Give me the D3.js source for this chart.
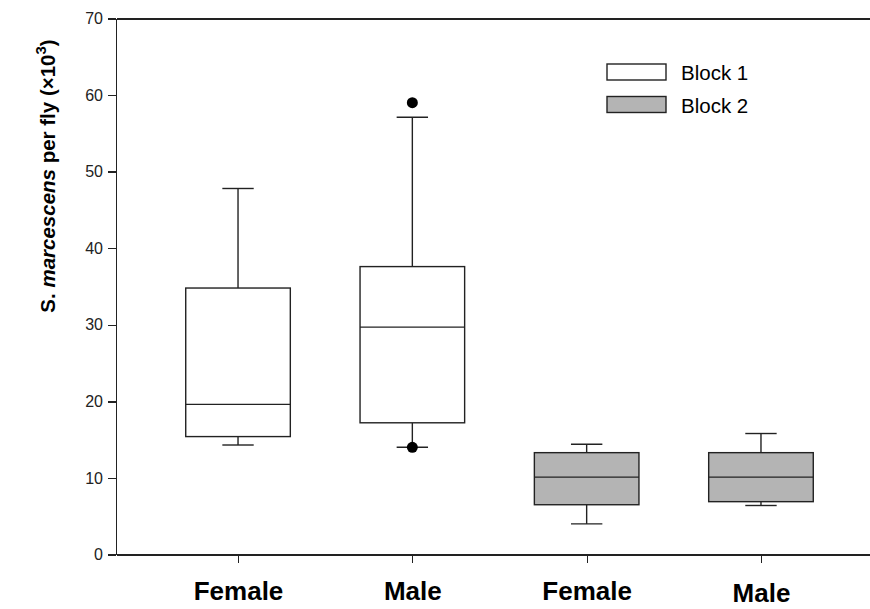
<!DOCTYPE html>
<html>
<head>
<meta charset="utf-8">
<script src="https://cdn.jsdelivr.net/npm/d3@7"></script>
<style>
    body { margin: 0; background: #fff; }
    svg { display: block; font-family: "Liberation Sans", Arial, sans-serif; }
    .axis path, .axis line { stroke: #222; stroke-width: 1.3; shape-rendering: crispEdges; }
    .y-axis text { font-size: 16px; fill: #222; }
    .x-axis text { font-size: 26px; font-weight: bold; fill: #000; }
</style>
</head>
<body>
<div id="chart"></div>
<script>
// data
let groups = ["Female", "Male", "Female", "Male"];
let blocks = ["Block 1", "Block 1", "Block 2", "Block 2"];
let whiskerLow = [14.3, 14.0, 4.0, 6.4];
let q1 = [15.4, 17.2, 6.5, 6.9];
let median = [19.6, 29.7, 10.1, 10.1];
let q3 = [34.8, 37.6, 13.3, 13.3];
let whiskerHigh = [47.8, 57.1, 14.4, 15.8];
let outliers = [[], [59.0, 14.0], [], []];
let yTicks = [0, 10, 20, 30, 40, 50, 60, 70];

let legendItems = ["Block 1", "Block 2"];
let blockColor = {"Block 1": "#ffffff", "Block 2": "#b4b4b4"};

let width = 870, height = 609;
let margin = {top: 18, left: 116, bottom: 54};

let svg = d3.select("#chart").append("svg")
    .attr("width", width)
    .attr("height", height);

// x positions: the plot is cut off at the right edge, range goes past 870
let x = d3.scalePoint()
    .domain(d3.range(groups.length))
    .range([margin.left, 883])
    .padding(0.7);

let y = d3.scaleLinear()
    .domain([0, 70])
    .range([height - margin.bottom - 0.5, margin.top + 0.5]);

let boxW = x.step() * 0.6;
let capW = x.step() * 0.18;

// frame top line
svg.append("g")
    .attr("class", "axis top-axis")
    .attr("transform", `translate(0,${y(70)})`)
    .call(d3.axisTop(x).tickValues([]).tickSizeOuter(0));

// y axis
svg.append("g")
    .attr("class", "axis y-axis")
    .attr("transform", `translate(${margin.left},0)`)
    .call(d3.axisLeft(y).tickValues(yTicks).tickSize(8).tickSizeOuter(0).tickPadding(5));

// x axis
let xAxisG = svg.append("g")
    .attr("class", "axis x-axis")
    .attr("transform", `translate(0,${y(0)})`)
    .call(d3.axisBottom(x).tickSize(8).tickSizeOuter(0).tickPadding(19).tickFormat(i => groups[i]));

// last label sits a bit lower in the original
xAxisG.selectAll(".tick text")
    .filter(i => i === 3)
    .attr("y", 29.5);

// boxes
let data = groups.map((g, i) => ({
    i: i, block: blocks[i],
    lo: whiskerLow[i], q1: q1[i], med: median[i], q3: q3[i], hi: whiskerHigh[i],
    out: outliers[i]
}));

let box = svg.append("g").selectAll(".box")
    .data(data)
    .enter()
    .append("g")
    .attr("class", "box");

let stroke = "#222", sw = 1.4;

// whiskers
box.append("line")
    .attr("x1", d => x(d.i)).attr("x2", d => x(d.i))
    .attr("y1", d => y(d.hi)).attr("y2", d => y(d.q3))
    .attr("stroke", stroke).attr("stroke-width", sw);
box.append("line")
    .attr("x1", d => x(d.i)).attr("x2", d => x(d.i))
    .attr("y1", d => y(d.q1)).attr("y2", d => y(d.lo))
    .attr("stroke", stroke).attr("stroke-width", sw);

// caps
box.append("line")
    .attr("x1", d => x(d.i) - capW / 2).attr("x2", d => x(d.i) + capW / 2)
    .attr("y1", d => y(d.hi)).attr("y2", d => y(d.hi))
    .attr("stroke", stroke).attr("stroke-width", sw);
box.append("line")
    .attr("x1", d => x(d.i) - capW / 2).attr("x2", d => x(d.i) + capW / 2)
    .attr("y1", d => y(d.lo)).attr("y2", d => y(d.lo))
    .attr("stroke", stroke).attr("stroke-width", sw);

// box body
box.append("rect")
    .attr("x", d => x(d.i) - boxW / 2)
    .attr("y", d => y(d.q3))
    .attr("width", boxW)
    .attr("height", d => y(d.q1) - y(d.q3))
    .attr("fill", d => blockColor[d.block])
    .attr("stroke", stroke).attr("stroke-width", sw);

// median
box.append("line")
    .attr("x1", d => x(d.i) - boxW / 2).attr("x2", d => x(d.i) + boxW / 2)
    .attr("y1", d => y(d.med)).attr("y2", d => y(d.med))
    .attr("stroke", stroke).attr("stroke-width", sw);

// outliers
box.selectAll(".outlier")
    .data(d => d.out.map(v => ({i: d.i, v: v})))
    .enter()
    .append("circle")
    .attr("class", "outlier")
    .attr("cx", d => x(d.i))
    .attr("cy", d => y(d.v))
    .attr("r", 5.5)
    .attr("fill", "#000");

// legend
let legend = svg.append("g")
    .attr("transform", "translate(607,64)");

let lg = legend.selectAll(".legend-item")
    .data(legendItems)
    .enter()
    .append("g")
    .attr("class", "legend-item")
    .attr("transform", (d, i) => `translate(0,${i * 32.5})`);

lg.append("rect")
    .attr("width", 59)
    .attr("height", 16)
    .attr("fill", d => blockColor[d])
    .attr("stroke", stroke).attr("stroke-width", sw);

lg.append("text")
    .attr("x", 74)
    .attr("y", 16)
    .attr("font-size", "20.5px")
    .text(d => d);

// y axis title
let title = svg.append("text")
    .attr("transform", "translate(55,176) rotate(-90)")
    .attr("text-anchor", "middle")
    .attr("font-size", "20.5px")
    .attr("font-weight", "bold");

title.append("tspan").text("S. ");
title.append("tspan").attr("font-style", "italic").text("marcescens");
title.append("tspan").text(" per fly (\u00d710");
title.append("tspan").attr("font-size", "15px").attr("dy", -9).text("3");
title.append("tspan").attr("dy", 9).text(")");
</script>
</body>
</html>
